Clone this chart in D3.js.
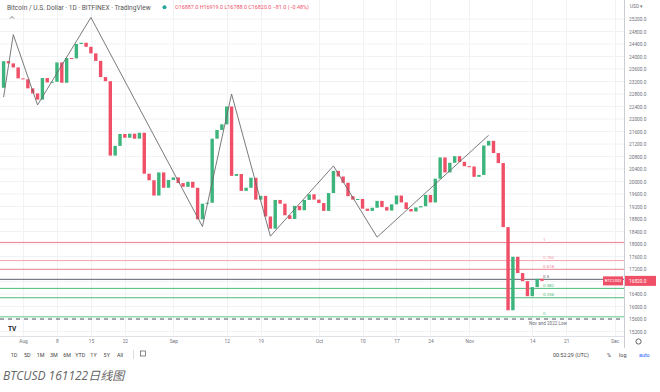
<!DOCTYPE html>
<html>
<head>
<meta charset="utf-8">
<script src="https://cdn.jsdelivr.net/npm/d3@7"></script>
<style>
  body { margin: 0; background: #fff; }
  svg { display: block; font-family: Roboto, "Noto Sans", sans-serif; }
</style>
</head>
<body>
<svg id="chart" width="660" height="392"></svg>
<script>
'use strict';

// Daily candles, Jul 28 2022 -> Nov 16 2022 (one entry per day)
const firstDay = Date.UTC(2022, 6, 28);
const opens = [
  23000, 23850, 23780, 23650, 23300, 23270, 22980, 22820, 22620, 23310,
  23170, 23190, 23810, 23160, 23950, 23940, 24400, 24440, 24310, 24100,
  23860, 23340, 23210, 20830, 21140, 21520, 21400, 21530, 21370, 21560,
  20250, 20040, 19550, 20290, 19800, 20050, 20130, 19950, 19830, 19990,
  19800, 18790, 19290, 19320, 21370, 21650, 21830, 22400, 20180, 20240,
  19700, 19800, 20120, 19420, 19540, 18880, 18490, 19410, 19290, 18920,
  18800, 19220, 19080, 19410, 19590, 19420, 19310, 19060, 19630, 20340,
  20160, 19960, 19530, 19420, 19440, 19130, 19060, 19160, 19380, 19180,
  19070, 19270, 19550, 19330, 19120, 19040, 19170, 19210, 19570, 19330,
  20090, 20770, 20290, 20600, 20810, 20630, 20490, 20480, 20150, 20210,
  21150, 21300, 20910, 20590, 18540, 15880, 17590, 17070, 16810, 16330,
  16620, 16887
];
const closes = [
  23850, 23780, 23650, 23300, 23270, 22980, 22820, 22620, 23310, 23170,
  23190, 23810, 23160, 23950, 23940, 24400, 24440, 24310, 24100, 23860,
  23340, 23210, 20830, 21140, 21520, 21400, 21530, 21370, 21560, 20250,
  20040, 19550, 20290, 19800, 20050, 20130, 19950, 19830, 19990, 19800,
  18790, 19290, 19320, 21370, 21650, 21830, 22400, 20180, 20240, 19700,
  19800, 20120, 19420, 19540, 18880, 18490, 19410, 19290, 18920, 18800,
  19220, 19080, 19410, 19590, 19420, 19310, 19060, 19630, 20340, 20160,
  19960, 19530, 19420, 19440, 19130, 19060, 19160, 19380, 19180, 19070,
  19270, 19550, 19330, 19120, 19040, 19170, 19210, 19570, 19330, 20090,
  20770, 20290, 20600, 20810, 20630, 20490, 20480, 20150, 20210, 21150,
  21300, 20910, 20590, 18540, 15880, 17590, 17070, 16810, 16330, 16620,
  16887, 16820
];

// hand-drawn swing line
const zigzagDates = ['2022-07-28', '2022-07-30', '2022-08-04', '2022-08-15', '2022-09-07',
  '2022-09-13', '2022-09-21', '2022-10-04', '2022-10-13', '2022-11-05'];
const zigzagPrices = [22700, 24700, 22450, 25250, 18560, 22800, 18250, 20500, 18220, 21480];

// fib retracement levels
const fibLabels = ['1', '0.786', '0.618', '0.5', '0.382', '0.236', '0'];
const fibPrices = [18050, 17470, 17190, 16870, 16580, 16280, 15670];
const fibColors = ['#f07f8f', '#f5a4ae', '#ef8494', '#5d606b', '#4cbb78', '#4cbb78', '#66c68a'];
const lowPrice = 15600;
const lowLabel = 'Nov and 2022 Low';
const lastPrice = 16820;

const priceTicks = [15200, 15600, 16000, 16400, 16800, 17200, 17600, 18000, 18400, 18800,
  19200, 19600, 20000, 20400, 20800, 21200, 21600, 22000, 22400, 22800, 23200, 23600,
  24000, 24400, 24800, 25200];
const timeTicks = ['2022-08-01', '2022-08-08', '2022-08-15', '2022-08-22', '2022-09-01',
  '2022-09-12', '2022-09-19', '2022-10-01', '2022-10-10', '2022-10-17', '2022-10-24',
  '2022-11-01', '2022-11-14', '2022-11-21', '2022-12-01'];
const rangeButtons = ['1D', '5D', '1M', '3M', '6M', 'YTD', '1Y', '5Y', 'All'];

const UP = '#3cb47c', DOWN = '#ef5068';
const plotRight = 624, plotBottom = 336.5;

const svg = d3.select('#chart');
const parse = d3.utcParse('%Y-%m-%d');

const x = d3.scaleUtc()
  .domain([Date.UTC(2022, 7, 1), Date.UTC(2022, 10, 16)])
  .range([23, 542]);
const y = d3.scaleLinear().domain([15200, 25200]).range([331.5, 19]);

const candles = closes.map((c, i) => ({
  date: new Date(firstDay + i * 864e5), open: opens[i], close: c
}));

svg.append('defs').append('clipPath').attr('id', 'plot')
  .append('rect').attr('width', plotRight).attr('height', plotBottom);

// grid
const grid = svg.append('g').attr('stroke', '#f1f2f5').attr('stroke-width', 1);
grid.selectAll('.vg').data(timeTicks.map(parse)).join('line')
  .attr('x1', d => Math.round(x(d)) + 0.5).attr('x2', d => Math.round(x(d)) + 0.5)
  .attr('y1', 0).attr('y2', plotBottom);
grid.selectAll('.hg').data(priceTicks).join('line')
  .attr('x1', 0).attr('x2', plotRight)
  .attr('y1', d => y(d)).attr('y2', d => y(d));

const plot = svg.append('g').attr('clip-path', 'url(#plot)');

// fib lines
plot.selectAll('.fib').data(fibPrices).join('line')
  .attr('x1', 0).attr('x2', plotRight)
  .attr('y1', d => y(d)).attr('y2', d => y(d))
  .attr('stroke', (d, i) => fibColors[i]).attr('stroke-width', 1);
plot.selectAll('.fibt').data(fibPrices).join('text')
  .attr('x', 543).attr('y', d => y(d) - 1.5)
  .attr('font-size', 4.4).attr('fill', (d, i) => fibColors[i])
  .text((d, i) => fibLabels[i]);

// dashed low line
plot.append('line')
  .attr('x1', 0).attr('x2', plotRight)
  .attr('y1', y(lowPrice)).attr('y2', y(lowPrice))
  .attr('stroke', '#50535e').attr('stroke-width', 1).attr('stroke-dasharray', '4,4');
plot.append('text').attr('x', 548).attr('y', y(lowPrice) + 5.5)
  .attr('text-anchor', 'middle').attr('font-size', 4.6).attr('fill', '#6a6d78')
  .text(lowLabel);

// candles
plot.selectAll('.c').data(candles).join('rect')
  .attr('x', d => x(d.date) - 1.7)
  .attr('width', 3.4)
  .attr('y', d => y(Math.max(d.open, d.close)))
  .attr('height', d => Math.max(1, Math.abs(y(d.open) - y(d.close))))
  .attr('fill', d => d.close >= d.open ? UP : DOWN);

// swing line
const zz = zigzagDates.map((d, i) => [x(parse(d)), y(zigzagPrices[i])]);
plot.append('path').attr('d', d3.line()(zz))
  .attr('fill', 'none').attr('stroke', '#6b6b6b').attr('stroke-width', 0.9);

// time axis
svg.append('line').attr('x1', 0).attr('x2', plotRight)
  .attr('y1', plotBottom).attr('y2', plotBottom).attr('stroke', '#dfe1e6');
const xAxis = svg.append('g').attr('transform', `translate(0,${plotBottom})`)
  .call(d3.axisBottom(x).tickValues(timeTicks.map(parse))
    .tickFormat(d => d.getUTCDate() === 1 ? d3.utcFormat('%b')(d) : d.getUTCDate())
    .tickSize(0).tickPadding(3));
xAxis.select('.domain').remove();
xAxis.selectAll('text').attr('font-size', 4.8).attr('fill', '#6f727c')
  .attr('font-family', 'Roboto, sans-serif');

// price axis
const yAxis = svg.append('g').attr('transform', `translate(${plotRight},0)`)
  .call(d3.axisRight(y).tickValues(priceTicks).tickFormat(d => d.toFixed(1))
    .tickSize(0).tickPadding(5));
yAxis.select('.domain').attr('stroke', '#c9ccd3').attr('d', 'M0.5,0V348');
yAxis.selectAll('text').attr('font-size', 4.8).attr('fill', '#6f727c')
  .attr('font-family', 'Roboto, sans-serif');
svg.append('text').attr('x', 630).attr('y', 8).attr('font-size', 4.8)
  .attr('fill', '#6f727c').text('USD ▾');

// last price tags
svg.append('rect').attr('x', 603).attr('y', y(lastPrice) - 4.5)
  .attr('width', 20).attr('height', 9).attr('fill', DOWN);
svg.append('text').attr('x', 613).attr('y', y(lastPrice) + 1.6)
  .attr('text-anchor', 'middle').attr('font-size', 4.4).attr('fill', '#fff').text('BTCUSD');
svg.append('rect').attr('x', 625).attr('y', y(lastPrice) - 5)
  .attr('width', 31).attr('height', 10).attr('fill', DOWN);
svg.append('text').attr('x', 629).attr('y', y(lastPrice) + 1.7)
  .attr('font-size', 4.8).attr('fill', '#fff').text(lastPrice.toFixed(1));

// header
svg.append('text').attr('x', 7).attr('y', 9.5).attr('font-size', 6.6).attr('fill', '#555')
  .text('Bitcoin / U.S. Dollar · 1D · BITFINEX · TradingView');
svg.append('circle').attr('cx', 164.5).attr('cy', 7.3).attr('r', 2).attr('fill', '#26a69a');
svg.append('text').attr('x', 175).attr('y', 9.3).attr('font-size', 5.4).attr('fill', DOWN)
  .text('O16887.0  H16919.0  L16788.0  C16820.0  −81.0 (−0.48%)');
svg.append('path').attr('d', 'M10,18.5 L12,16.5 L14,18.5')
  .attr('fill', 'none').attr('stroke', '#555').attr('stroke-width', 0.8);

// TV logo
svg.append('text').attr('x', 8).attr('y', 331).attr('font-size', 6.5)
  .attr('font-weight', 'bold').attr('fill', '#222').text('TV');

// gear
svg.append('circle').attr('cx', 638.5).attr('cy', 341.5).attr('r', 2.6)
  .attr('fill', 'none').attr('stroke', '#555').attr('stroke-width', 0.9);

// bottom toolbar
const btnX = d3.scalePoint().domain(rangeButtons).range([14, 120]);
svg.selectAll('.btn').data(rangeButtons).join('text')
  .attr('x', d => btnX(d)).attr('y', 356.5).attr('text-anchor', 'middle')
  .attr('font-size', 5.4).attr('fill', '#444').text(d => d);
svg.append('line').attr('x1', 133.5).attr('x2', 133.5).attr('y1', 350).attr('y2', 359)
  .attr('stroke', '#ddd');
svg.append('rect').attr('x', 140.5).attr('y', 351).attr('width', 5).attr('height', 5)
  .attr('fill', 'none').attr('stroke', '#555').attr('stroke-width', 0.7);
svg.append('text').attr('x', 553).attr('y', 356.5).attr('font-size', 5.4).attr('fill', '#444')
  .text('00:52:29 (UTC)');
svg.append('text').attr('x', 607).attr('y', 356.5).attr('font-size', 5.4).attr('fill', '#444').text('%');
svg.append('text').attr('x', 619).attr('y', 356.5).attr('font-size', 5.4).attr('fill', '#444').text('log');
svg.append('text').attr('x', 639).attr('y', 356.5).attr('font-size', 5.4).attr('fill', '#2962ff').text('auto');

// caption
svg.append('text').attr('x', 3).attr('y', 380).attr('font-size', 12)
  .attr('font-style', 'italic').attr('fill', '#666')
  .attr('font-family', '"Open Sans", "Noto Sans CJK SC", sans-serif')
  .text('BTCUSD 161122日线图');
</script>
</body>
</html>
